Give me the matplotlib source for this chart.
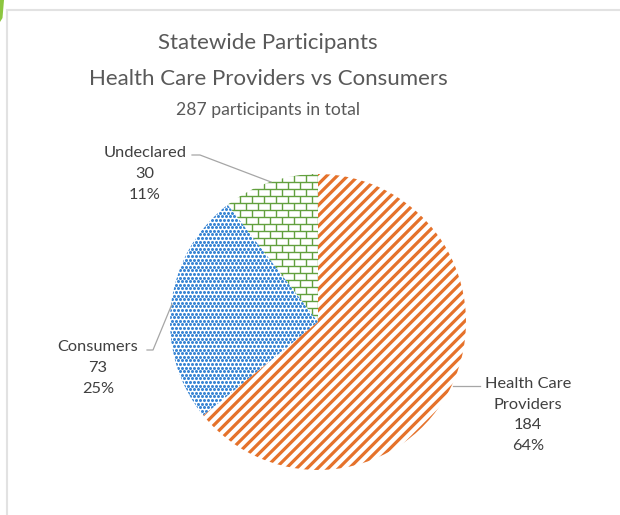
import numpy as np
import matplotlib
matplotlib.use("Agg")
import matplotlib.pyplot as plt
from matplotlib.collections import LineCollection
from matplotlib.patches import Rectangle, Polygon

plt.rcParams['font.family'] = ['Lato', 'DejaVu Sans']

# participant counts, clockwise from 12 o'clock
categories = ['Health Care\nProviders', 'Consumers', 'Undeclared']
counts = [184, 73, 30]
percents = [64, 25, 11]   # as shown on the labels (rounded to add up to 100)
colors = ['#E5722B', '#3A86D4', '#62A03E']

W, H = 620, 515
fig = plt.figure(figsize=(W / 100, H / 100), dpi=100)
ax = fig.add_axes([0, 0, 1, 1])

def py(y):
    # pixel rows counted from the top
    return H - y

cx, cy, r = 318, py(322), 148
wedges, _ = ax.pie(counts, startangle=90, counterclock=False, center=(cx, cy),
                   radius=r, colors=['white'] * 3,
                   wedgeprops=dict(edgecolor='white', linewidth=1.5), frame=True)
ax.set_xlim(0, W)
ax.set_ylim(0, H)
ax.set_aspect('equal')
ax.axis('off')

# light frame around the chart area + green corner sliver
ax.add_patch(Rectangle((7, -5), W, py(10) + 5, fill=False, ec='#E2E2E2', lw=1.5))
ax.add_patch(Polygon([(0, H), (4, H), (2.5, py(18)), (0, py(22))], closed=True,
                     fc='#8CC63F', ec='none'))

x0, x1 = cx - r - 20, cx + r + 20
y0, y1 = cy - r - 20, cy + r + 20

# orange: wide diagonal stripes
segs = []
for c in np.arange(-2 * r - 60, 2 * r + 60, 10.5):
    segs.append([(x0, cy + c - r - 20), (x1, cy + c + r + 20)])
lc = LineCollection(segs, colors=colors[0], linewidths=2.3)
ax.add_collection(lc)
lc.set_clip_path(wedges[0])

# blue: small dots in offset rows
pts = []
for j, yy in enumerate(np.arange(y0, y1, 3.6)):
    off = 2.0 if j % 2 else 0.0
    for xx in np.arange(x0 + off, x1, 4.0):
        pts.append((xx, yy))
pts = np.array(pts)
sc = ax.scatter(pts[:, 0], pts[:, 1], s=4.8, c=colors[1], linewidths=0)
sc.set_clip_path(wedges[1])

# green: brick pattern
segs = []
rows = np.arange(y0, y1, 7.0)
for j, yy in enumerate(rows):
    segs.append([(x0, yy), (x1, yy)])
    off = 6.0 if j % 2 else 0.0
    for xx in np.arange(x0 + off, x1, 12.0):
        segs.append([(xx, yy), (xx, yy + 7.0)])
lc = LineCollection(segs, colors=colors[2], linewidths=1.0)
ax.add_collection(lc)
lc.set_clip_path(wedges[2])

# titles
tcol = '#595959'
ax.text(268, py(43), 'Statewide Participants', ha='center', va='center',
        fontsize=16, color=tcol)
ax.text(268, py(79), 'Health Care Providers vs Consumers', ha='center', va='center',
        fontsize=16, color=tcol)
ax.text(268, py(110), '287 participants in total', ha='center', va='center',
        fontsize=12.6, color=tcol)

# data labels with leader lines
lcol = '#404040'
gcol = '#A6A6A6'
label_pos = [(528, 415), (98, 368), (145, 174)]
leaders = [
    [(480, 386), (453, 386)],
    [(147, 350), (153, 350), (172, 304)],
    [(192, 155), (200, 155), (271, 182)],
]
for name, n, p, (lx, ly), ld in zip(categories, counts, percents, label_pos, leaders):
    ax.text(lx, py(ly), f'{name}\n{n}\n{p}%', ha='center', va='center',
            fontsize=11.8, color=lcol, linespacing=1.6)
    xs, ys = zip(*ld)
    ax.plot(xs, [py(v) for v in ys], color=gcol, lw=0.9)

fig.savefig('out.png', dpi=100, facecolor='white')
